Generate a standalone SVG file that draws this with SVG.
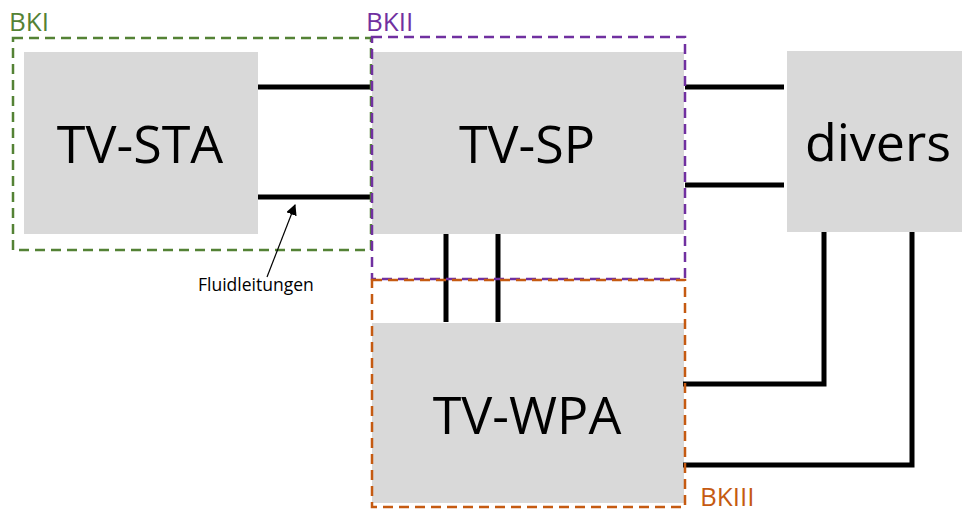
<svg xmlns="http://www.w3.org/2000/svg" width="962" height="513" viewBox="0 0 962 513">
  <defs>
    <style>
      .box { fill: #D9D9D9; }
      .big { font-family: "Open Sans", "Noto Sans", sans-serif; font-size: 52px; fill: #000; text-anchor: middle; }
      .zone { fill: none; stroke-width: 2.5; stroke-dasharray: 10 6; }
      .zlabel { font-family: "Open Sans", "Noto Sans", sans-serif; font-size: 26px; }
      .pipe { fill: none; stroke: #000; stroke-width: 5; }
      .small { font-family: "Open Sans", "Noto Sans", sans-serif; font-size: 17.5px; fill: #000; }
    </style>
    <marker id="arr" viewBox="0 0 10 10" refX="9" refY="5" markerWidth="11" markerHeight="11" markerUnits="userSpaceOnUse" orient="auto">
      <path d="M0,0 L10,5 L0,10 z" fill="#000"/>
    </marker>
  </defs>
  <rect width="962" height="513" fill="#fff"/>

  <g id="TV-STA">
    <rect class="box" x="24" y="52" width="234" height="182"/>
    <text class="big" x="140" y="163">TV-STA</text>
  </g>
  <g id="TV-SP">
    <rect class="box" x="372" y="52" width="312" height="182"/>
    <text class="big" x="527" y="163">TV-SP</text>
  </g>
  <g id="divers">
    <rect class="box" x="787" y="51" width="180" height="181"/>
    <text class="big" x="878" y="161">divers</text>
  </g>
  <g id="TV-WPA">
    <rect class="box" x="372" y="323" width="312" height="180"/>
    <text class="big" x="527" y="434">TV-WPA</text>
  </g>

  <g id="connectors">
    <path class="pipe" d="M258,87 H371"/>
    <path class="pipe" d="M258,197 H371"/>
    <path class="pipe" d="M685,87 H784"/>
    <path class="pipe" d="M685,185 H784"/>
    <path class="pipe" d="M446,234 V322"/>
    <path class="pipe" d="M498,234 V322"/>
    <path class="pipe" d="M683,384 H824 V232"/>
    <path class="pipe" d="M683,465 H912 V232"/>
  </g>

  <g id="BKI">
    <rect class="zone" x="13" y="38" width="358" height="212" stroke="#548235"/>
    <text class="zlabel" x="9" y="31" fill="#548235">BKI</text>
  </g>
  <g id="BKII">
    <rect class="zone" x="372" y="37" width="313" height="242" stroke="#7030A0"/>
    <text class="zlabel" x="366" y="31" fill="#7030A0">BKII</text>
  </g>
  <g id="BKIII">
    <rect class="zone" x="372" y="280" width="313" height="227" stroke="#C55A11"/>
    <text class="zlabel" x="700" y="506" fill="#C55A11">BKIII</text>
  </g>

  <g id="Fluidleitungen">
    <path d="M267,277 L295,205" stroke="#000" stroke-width="1.2" fill="none" marker-end="url(#arr)"/>
    <text class="small" x="198" y="291">Fluidleitungen</text>
  </g>
</svg>
